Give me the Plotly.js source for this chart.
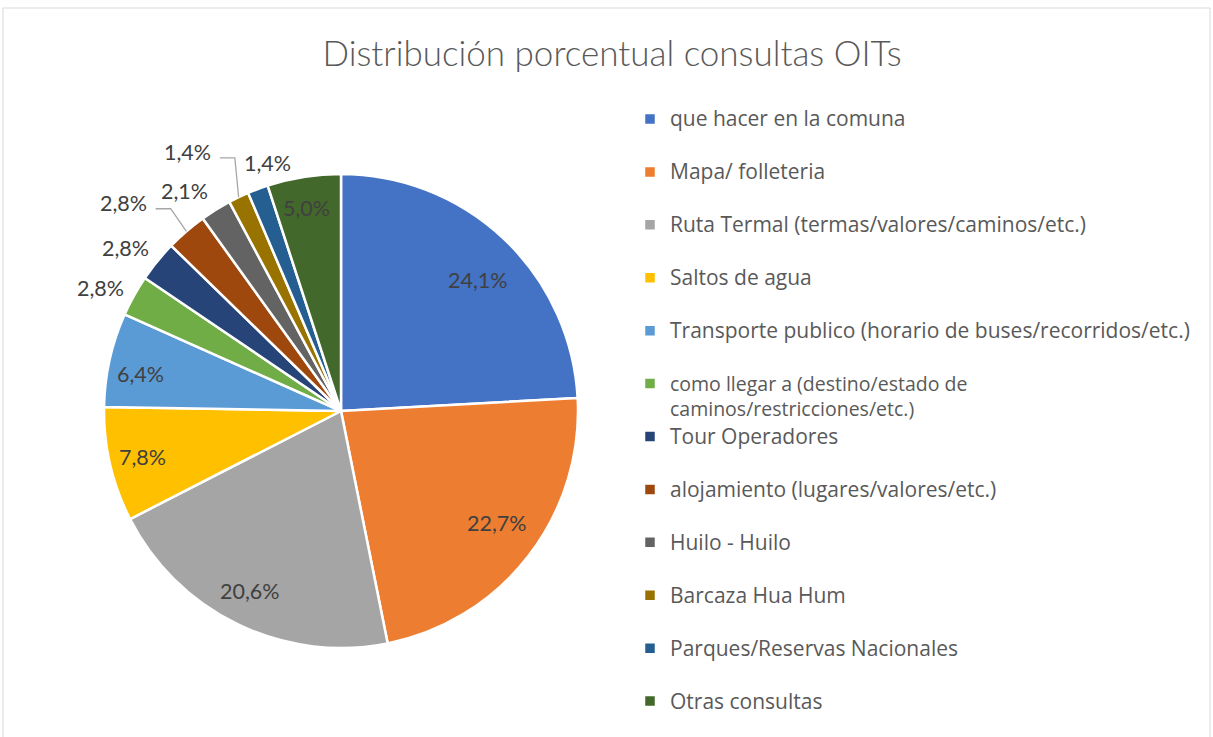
<!DOCTYPE html>
<html>
<head>
<meta charset="utf-8">
<script src="https://cdn.plot.ly/plotly-3.0.1.min.js"></script>
<style>html,body{margin:0;padding:0;background:#fff;}#chart{width:1213px;height:737px;}</style>
</head>
<body>
<div id="chart"></div>
<script>
// ---- data ----
const categories = [
  "que hacer en la comuna",
  "Mapa/ folleteria",
  "Ruta Termal (termas/valores/caminos/etc.)",
  "Saltos de agua",
  "Transporte publico (horario de buses/recorridos/etc.)",
  "como llegar a (destino/estado de<br>caminos/restricciones/etc.)",
  "Tour Operadores",
  "alojamiento (lugares/valores/etc.)",
  "Huilo - Huilo",
  "Barcaza Hua Hum",
  "Parques/Reservas Nacionales",
  "Otras consultas"
];
const percentages = [24.1, 22.7, 20.6, 7.8, 6.4, 2.8, 2.8, 2.8, 2.1, 1.4, 1.4, 5.0];
const colors = ["#4472C4","#ED7D31","#A5A5A5","#FFC000","#5B9BD5","#70AD47",
                "#264478","#9E480E","#636363","#997300","#255E91","#43682B"];

// ---- label layout (styling) ----
const labelRadius = [0.80, 0.81, 0.85, 0.86, 0.86, 1.14, 1.14, 1.27, 1.14, 1.27, 1.09, 0.87];
const labelAngleShift = [3, -2, 1, 0, -2, -2, -2, -5.5, -3.5, -5, 4, -0.5];
const hasLeader = [false,false,false,false,false,false,false,true,false,true,false,false];

const W = 1213, H = 737;
const cx = 341, cy = 411, R = 237;
const dom = {x: [(cx - R) / W, (cx + R) / W], y: [(H - cy - R) / H, (H - cy + R) / H]};
function px(x, y) { return [x / W, 1 - y / H]; }

const total = percentages.reduce((a, b) => a + b, 0);
let cum = 0;
const annotations = [];
const shapes = [];
percentages.forEach((v, i) => {
  const mid = (cum + v / 2) / total * 360;
  cum += v;
  const a = (mid + labelAngleShift[i]) * Math.PI / 180;
  const r = labelRadius[i] * R;
  const lx = cx + r * Math.sin(a), ly = cy - r * Math.cos(a);
  const p = px(lx, ly);
  annotations.push({
    x: p[0], y: p[1], xref: 'paper', yref: 'paper', showarrow: false,
    text: v.toFixed(1).replace('.', ',') + '%',
    font: {family: 'Lato, sans-serif', size: 21.5, color: '#404040'},
    xanchor: 'center', yanchor: 'middle'
  });
  if (hasLeader[i]) {
    const am = mid * Math.PI / 180;
    const ex = cx + R * Math.sin(am), ey = cy - R * Math.cos(am);
    const sx = lx + 32, sy = ly + 6;
    const kx = sx + 15;
    const p1 = px(sx, sy), p2 = px(kx, sy), p3 = px(ex, ey);
    shapes.push({
      type: 'path', xref: 'paper', yref: 'paper',
      path: `M${p1[0]},${p1[1]} L${p2[0]},${p2[1]} L${p3[0]},${p3[1]}`,
      line: {color: '#A6A6A6', width: 1.3}
    });
  }
});

// chart border
shapes.push({type: 'rect', xref: 'paper', yref: 'paper',
  x0: 3 / W, x1: 1210 / W, y0: -0.01, y1: 1 - 8 / H,
  line: {color: '#D9D9D9', width: 1}, fillcolor: 'rgba(0,0,0,0)'});

const span = (s, fs) => '<span style="font-size:' + fs + 'px">' + s + '</span>';
const legendLabels = categories.map((c, i) => {
  if (c.indexOf('<br>') >= 0) return c.split('<br>').map(s => span(s, 19.5)).join('<br>');
  if (i === categories.length - 1) return span(c, 21);
  return span(c, 21) + '<br>\u00a0';
});

const trace = {
  type: 'pie',
  labels: legendLabels,
  values: percentages,
  sort: false,
  direction: 'clockwise',
  rotation: 0,
  textinfo: 'none',
  hoverinfo: 'label+percent',
  marker: {colors: colors, line: {color: '#FFFFFF', width: 2.5}},
  domain: dom
};

const layout = {
  width: W, height: H,
  margin: {l: 0, r: 0, t: 0, b: 0},
  paper_bgcolor: '#FFFFFF',
  title: {
    text: 'Distribución porcentual consultas OITs',
    x: 612 / W, xanchor: 'center', y: 1 - 54 / H, yanchor: 'middle',
    xref: 'paper', yref: 'paper',
    font: {family: 'Lato, sans-serif', size: 35, color: '#595959', weight: 300}
  },
  showlegend: true,
  legend: {
    x: 630 / W, xanchor: 'left', y: 1 - 100 / H, yanchor: 'top',
    valign: 'top',
    font: {family: '"Open Sans", sans-serif', size: 19.2, color: '#595959'},
    bgcolor: 'rgba(0,0,0,0)'
  },
  annotations: annotations,
  shapes: shapes
};

Plotly.newPlot('chart', [trace], layout, {displayModeBar: false, staticPlot: true});
</script>
</body>
</html>
